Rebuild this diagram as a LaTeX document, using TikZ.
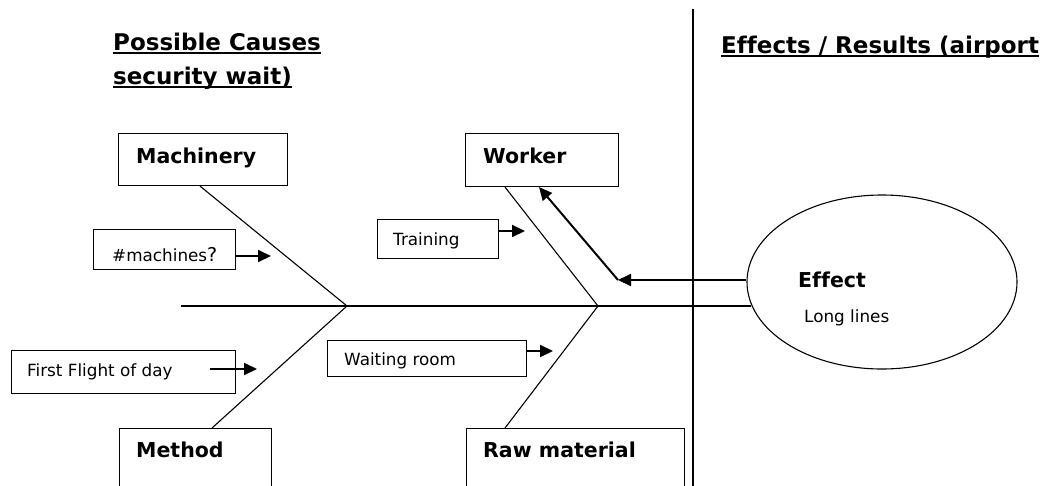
\documentclass[tikz,border=0pt]{standalone}
\usepackage{fontspec}
\setmainfont[Ligatures=NoCommon]{DejaVu Sans}
\usetikzlibrary{shapes.geometric,arrows.meta,calc}
\begin{document}
\begin{tikzpicture}[x=1pt,y=-1pt,
  box/.style={draw,line width=1.1pt,rectangle,anchor=north west,inner sep=0pt},
  bone/.style={line width=1.1pt},
  arr/.style={line width=2pt,-{Triangle[length=13pt,width=12pt]}},
  ttl/.style={font=\fontsize{23}{27}\selectfont\bfseries,anchor=base west,inner sep=0pt},
  hd/.style={font=\fontsize{20.5}{24}\selectfont\bfseries,anchor=base west,inner sep=0pt},
  lbl/.style={font=\fontsize{16.8}{20}\selectfont,anchor=base west,inner sep=0pt},
  ul/.style={line width=2.2pt}]
\useasboundingbox (0,0) rectangle (1056,485);
\clip (0,0) rectangle (1056,485);
\fill[white] (0,0) rectangle (1056,485);

% titles
\node[ttl] (t1) at (113,50) {Possible Causes};
\node[ttl] (t2) at (113,84) {security wait)};
\node[ttl] (t3) at (721,53) {Effects / Results (airport};
\draw[ul] ($(t1.base west)+(0,3)$) -- ($(t1.base east)+(0,3)$);
\draw[ul] ($(t2.base west)+(0,3)$) -- ($(t2.base east)+(0,3)$);
\draw[ul] ($(t3.base west)+(0,3)$) -- ($(t3.base east)+(0,3)$);

% divider
\coordinate (vTop) at (693,9);
\coordinate (vBot) at (693,490);
\draw[line width=1.3pt] (vTop) -- (vBot);

% category boxes
\node[box,minimum width=169pt,minimum height=52pt] (mach) at (118,133) {};
\node[box,minimum width=153pt,minimum height=53pt] (wrk) at (465,133) {};
\node[box,minimum width=152pt,minimum height=80pt] (meth) at (119,428) {};
\node[box,minimum width=218pt,minimum height=80pt] (raw) at (466,428) {};
\node[hd] (machT) at (136,163) {Machinery};
\node[hd] (wrkT) at (483,163) {Worker};
\node[hd] (methT) at (136,457) {Method};
\node[hd] (rawT) at (483,457) {Raw material};

% cause boxes
\node[box,minimum width=121pt,minimum height=39pt] (trn) at (377,219) {};
\node[box,minimum width=142pt,minimum height=40pt] (mch) at (93,229) {};
\node[box,minimum width=224pt,minimum height=43pt] (ffl) at (11,350) {};
\node[box,minimum width=199pt,minimum height=36pt] (wtr) at (327,340) {};
\node[lbl] (trnT) at (393,245) {Training};
\node[lbl] (mchT) at (112,261) {\#machines\fontsize{19}{20}\selectfont ?};
\node[lbl] (fflT) at (27,376) {First Flight of day};
\node[lbl] (wtrT) at (344,365) {Waiting room};

% effect
\node[draw,ellipse,line width=1.1pt,minimum width=270pt,minimum height=174pt,inner sep=0pt] (eff) at (882,282) {};
\node[hd] (effT) at (798,287) {Effect};
\node[lbl] (effL) at (804,322) {Long lines};

% spine and bones
\coordinate (tail) at (181,306);
\coordinate (J1) at (347,306);
\coordinate (J2) at (598,306);
\draw[bone] (tail) -- (tail -| eff.190);
\draw[bone] ($(mach.south west)+(82,0)$) -- (J1) -- ($(meth.north west)+(93,0)$);
\draw[bone] ($(wrk.south west)+(40,0)$) -- (J2) -- ($(raw.north west)+(39,0)$);

% effect arrows
\coordinate (K) at (618,280);
\draw[arr] (eff.west |- K) -- (K);
\draw[arr] (K) -- ($(wrk.south)+(-3,0)$);

% cause arrows
\coordinate (aT) at (525,231);
\coordinate (aM) at (271,256);
\coordinate (aFs) at (210,369);
\coordinate (aF) at (257,369);
\coordinate (aW) at (553,351);
\draw[arr] (trn.east |- aT) -- (aT);
\draw[arr] (mch.east |- aM) -- (aM);
\draw[arr] (aFs) -- (aF);
\draw[arr] (wtr.east |- aW) -- (aW);
\end{tikzpicture}
\end{document}
